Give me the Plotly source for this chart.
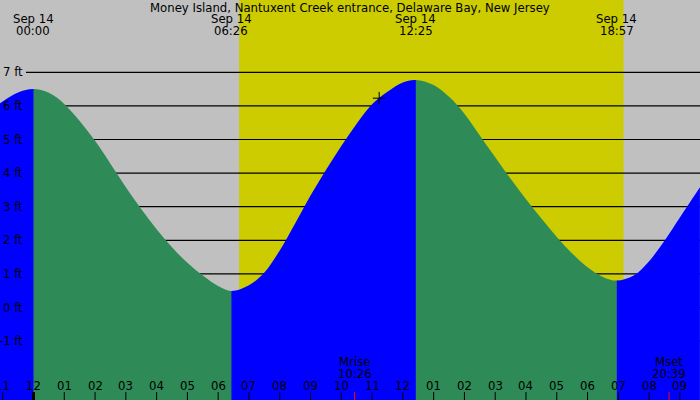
import plotly.graph_objects as go

# tide curve (hours after midnight, feet)
tide_hours = [-1.09, -0.5, 0.0,
              0.5, 1.0, 1.5, 2.0, 2.5, 3.0, 3.5, 4.0, 4.5, 5.0, 5.5, 6.0, 6.43,
              7.0, 7.5, 8.0, 8.5, 9.0, 9.5, 10.0, 10.5, 11.0, 11.5, 12.0, 12.42,
              13.0, 13.5, 14.0, 14.5, 15.0, 15.5, 16.0, 16.5, 17.0, 17.5, 18.0, 18.5, 18.95,
              19.5, 20.0, 20.5, 21.0, 21.5, 21.65]
tide_ft = [6.08, 6.40, 6.50,
           6.39, 6.06, 5.55, 4.96, 4.28, 3.58, 2.93, 2.33, 1.79, 1.33, 0.95, 0.64, 0.49,
           0.66, 1.04, 1.70, 2.50, 3.33, 4.09, 4.81, 5.47, 6.05, 6.42, 6.70, 6.77,
           6.62, 6.27, 5.77, 5.12, 4.47, 3.83, 3.22, 2.65, 2.10, 1.61, 1.20, 0.91, 0.80,
           0.95, 1.38, 1.99, 2.68, 3.37, 3.58]

# high / low tides
extreme_hours = [0.0, 6.43, 12.42, 18.95]
extreme_labels = ["00:00", "06:26", "12:25", "18:57"]
extreme_date = "Sep 14"

# daylight shading and moon
daylight = [6.68, 19.17]
moon_hours = [10.43, 20.65]
moon_names = ["Mrise", "Mset"]
moon_labels = ["10:26", "20:39"]

now_hour = 11.23
now_ft = 6.23

hour_ticks = list(range(-1, 22))
hour_text = ["11", "12", "01", "02", "03", "04", "05", "06", "07", "08", "09", "10", "11",
             "12", "01", "02", "03", "04", "05", "06", "07", "08", "09"]
ft_levels = [-1, 0, 1, 2, 3, 4, 5, 6, 7]

title = "Money Island, Nantuxent Creek entrance, Delaware Bay, New Jersey"

x_range = [-1.088, 21.653]
y_range = [-2.753, 9.152]
FONT = "DejaVu Sans"
FS = 11.7

fig = go.Figure()
span = x_range[1] - x_range[0]
layout_axes = {}

# each rising/falling stretch gets its own x axis whose domain matches the stretch,
# so one continuous curve is clipped into blue (rising) and green (falling) parts
bounds = [x_range[0]] + extreme_hours + [x_range[1]]
for i, (lo, hi) in enumerate(zip(bounds[:-1], bounds[1:])):
    n = i + 2
    d0 = (lo - x_range[0]) / span
    d1 = min(1.0, (hi - x_range[0]) / span + 0.001)
    h_lo = tide_ft[min(range(len(tide_hours)), key=lambda k: abs(tide_hours[k] - lo))]
    h_hi = tide_ft[min(range(len(tide_hours)), key=lambda k: abs(tide_hours[k] - hi))]
    color = "#0000ff" if h_hi > h_lo else "#2e8b57"
    layout_axes[f"xaxis{n}"] = dict(domain=[d0, d1], range=[x_range[0] + d0 * span, x_range[0] + d1 * span],
                                    anchor="y", visible=False, automargin=False)
    fig.add_trace(go.Scatter(x=[tide_hours[0], tide_hours[-1]], y=[y_range[0] - 1] * 2, mode="lines",
                             line=dict(width=0), xaxis=f"x{n}", hoverinfo="skip", showlegend=False))
    fig.add_trace(go.Scatter(x=tide_hours, y=tide_ft, mode="lines", xaxis=f"x{n}",
                             line=dict(width=0, shape="spline", smoothing=1.0),
                             fill="tonexty", fillcolor=color, hoverinfo="skip", showlegend=False))

# overlay axis for the "now" cross so it sits above the fills
layout_axes["xaxis9"] = dict(domain=[0, 1], range=x_range, anchor="y", visible=False, automargin=False)
fig.add_trace(go.Scatter(x=[now_hour], y=[now_ft], mode="markers", xaxis="x9",
                         marker=dict(symbol="cross-thin", size=9, line=dict(color="black", width=1)),
                         showlegend=False, hoverinfo="skip"))

shapes = [dict(type="rect", xref="x", yref="paper", x0=daylight[0], x1=daylight[1], y0=0, y1=1,
               fillcolor="#cccc00", line=dict(width=0), layer="below")]
for f in ft_levels:
    shapes.append(dict(type="line", xref="paper", yref="y", x0=26 / 700, x1=1, y0=f, y1=f,
                       line=dict(color="black", width=1.2), layer="below"))
for h in hour_ticks:
    shapes.append(dict(type="line", xref="x", yref="paper", x0=h, x1=h, y0=0, y1=0.02,
                       line=dict(color="black", width=3 if h == 0 else 1), layer="above"))
for m in moon_hours:
    shapes.append(dict(type="line", xref="x", yref="paper", x0=m, x1=m, y0=0, y1=0.02,
                       line=dict(color="red", width=1), layer="above"))


def label(text, x, y_px, xref="x", yref="paper", **kw):
    y = 1 - y_px / 400 if yref == "paper" else y_px
    return dict(text=text, xref=xref, yref=yref, x=x, y=y, yanchor="middle",
                showarrow=False, font=dict(size=FS, color="black"), **kw)


annotations = [label(title, 0.5, 7.5, xref="paper")]
for f in ft_levels:
    annotations.append(label(f"{f} ft", 25 / 700, f, xref="paper", yref="y", xanchor="right"))
for h, lab in zip(hour_ticks, hour_text):
    annotations.append(label(lab, h, 386))
for h, lab in zip(extreme_hours, extreme_labels):
    annotations.append(label(extreme_date, h, 19.3))
    annotations.append(label(lab, h, 31.5))
for h, name, lab in zip(moon_hours, moon_names, moon_labels):
    annotations.append(label(name, h, 361.7))
    annotations.append(label(lab, h, 374))

fig.update_layout(
    width=700, height=400,
    margin=dict(l=0, r=0, t=0, b=0, autoexpand=False),
    paper_bgcolor="#c0c0c0", plot_bgcolor="rgba(0,0,0,0)",
    font=dict(family=FONT, size=FS, color="black"),
    shapes=shapes, annotations=annotations,
    xaxis=dict(range=x_range, visible=False, automargin=False),
    yaxis=dict(range=y_range, visible=False, automargin=False),
    **layout_axes,
)

fig.write_html("out.html", config={"displayModeBar": False},
               post_script="document.body.style.margin='0px';")
